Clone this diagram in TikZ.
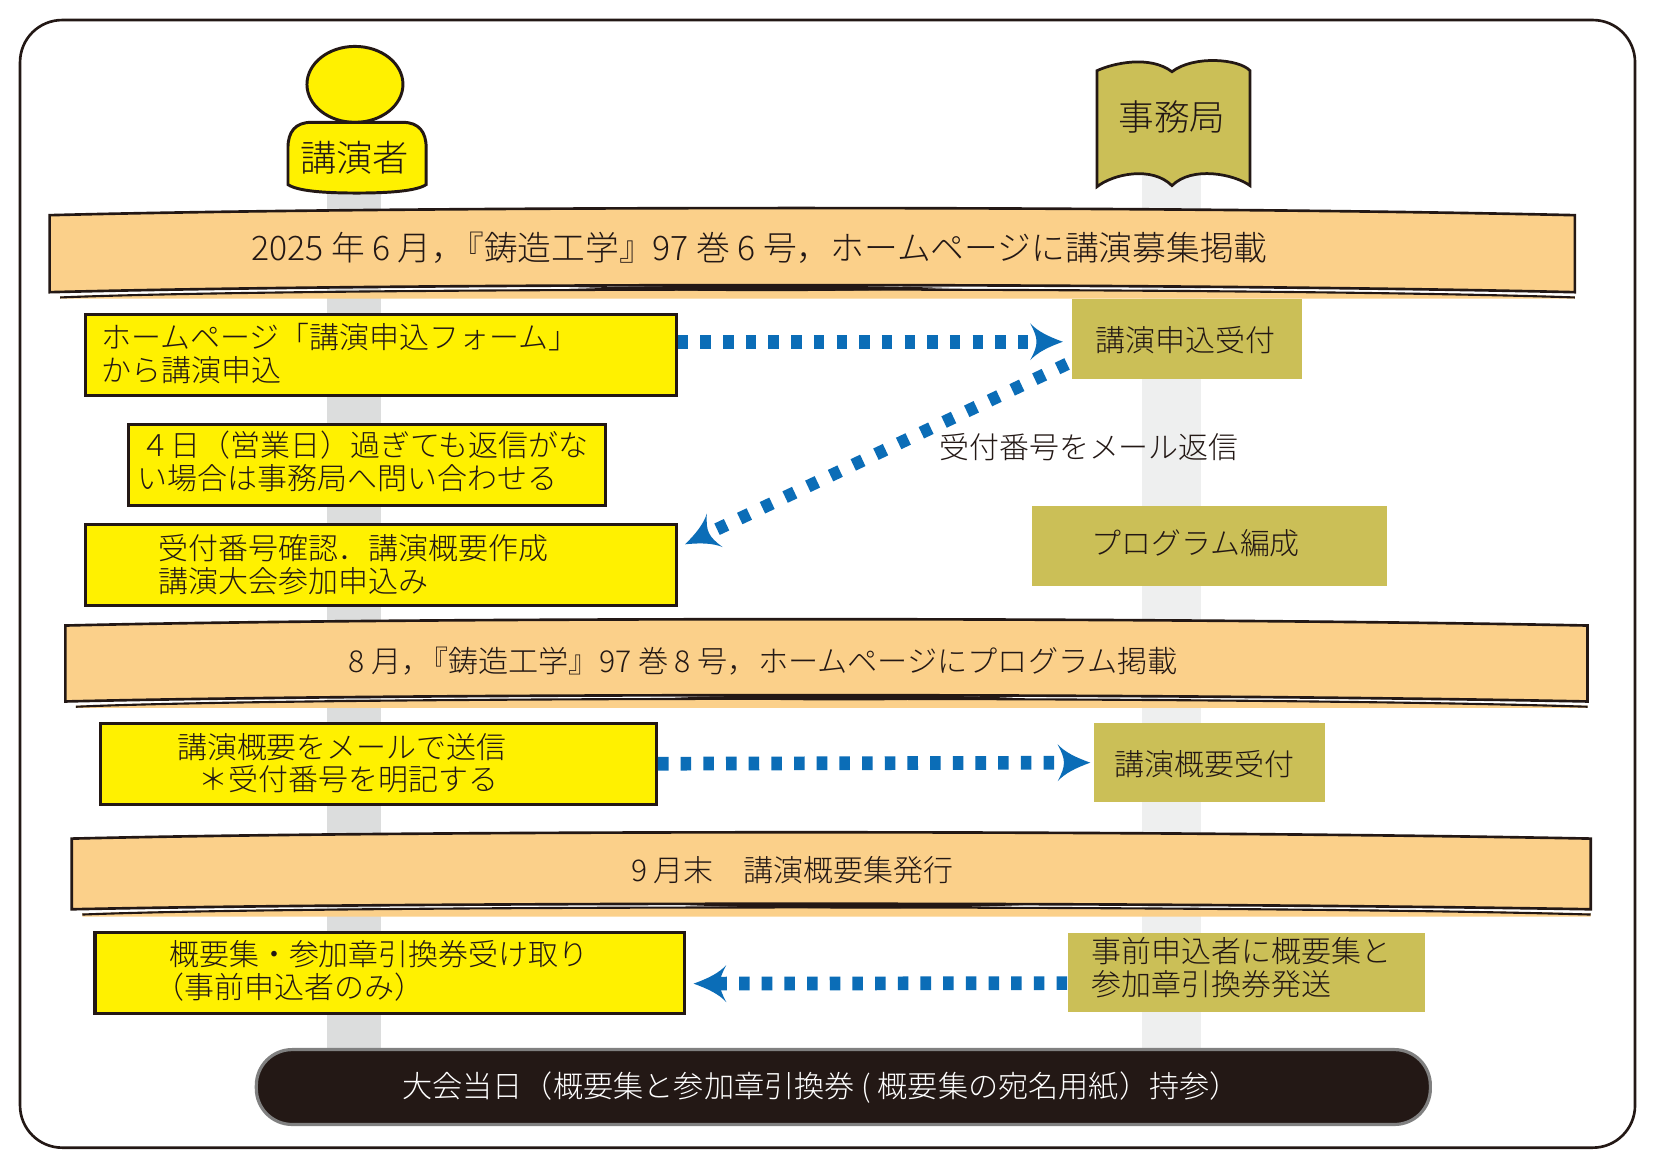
\documentclass[tikz,border=0pt]{standalone}
\usepackage{fontspec}
\setmainfont{Noto Sans CJK JP Light}
\usetikzlibrary{arrows.meta}
\definecolor{ink}{HTML}{231815}
\definecolor{yel}{HTML}{FFF100}
\definecolor{oli}{HTML}{CBBF57}
\definecolor{ora}{HTML}{FBD08A}
\definecolor{blu}{HTML}{0B6DB7}
\definecolor{lifeL}{HTML}{DCDDDD}
\definecolor{lifeR}{HTML}{EEEFEF}
\pgfdeclarearrow{
  name=ConcaveHead,
  setup code={%
    \pgfarrowssettipend{0pt}\pgfarrowssetlineend{-12.5pt}%
    \pgfarrowssetvisualbackend{-12.5pt}\pgfarrowssetbackend{-15.5pt}%
    \pgfarrowshullpoint{0pt}{0pt}},
  drawing code={%
    \pgfsetfillcolor{blu}%
    \pgfpathmoveto{\pgfpoint{0pt}{0pt}}%
    \pgfpathcurveto{\pgfpoint{-7pt}{2.5pt}}{\pgfpoint{-12pt}{5pt}}{\pgfpoint{-15.5pt}{8.75pt}}%
    \pgfpathcurveto{\pgfpoint{-13.5pt}{5pt}}{\pgfpoint{-12.5pt}{2.5pt}}{\pgfpoint{-12.5pt}{0pt}}%
    \pgfpathcurveto{\pgfpoint{-12.5pt}{-2.5pt}}{\pgfpoint{-13.5pt}{-5pt}}{\pgfpoint{-15.5pt}{-8.75pt}}%
    \pgfpathcurveto{\pgfpoint{-12pt}{-5pt}}{\pgfpoint{-7pt}{-2.5pt}}{\pgfpoint{0pt}{0pt}}%
    \pgfpathclose\pgfusepathqfill},
  defaults={}
}
\newcommand{\cmp}{\kern-0.45em }
\tikzset{
  x=0.5pt,y=-0.5pt,
  ybox/.style={draw=ink,fill=yel,line width=1.5pt,minimum width=#1,inner sep=0pt,minimum height=38.5pt},
  obox/.style={fill=oli,minimum width=#1,inner sep=0pt,minimum height=37.75pt},
  txt/.style={text=ink,font=\fontsize{14.2pt}{15.5pt}\selectfont,anchor=west,inner sep=0pt},
  flow/.style={draw=blu,line width=6.5pt,dash pattern=on 5pt off 5.75pt,-{ConcaveHead}},
  flowslant/.style={draw=blu,line width=6pt,dash pattern=on 5pt off 6.9pt,-{ConcaveHead}},
  band/.style={draw=ink,fill=ora,line width=1.25pt},
}
\begin{document}
\begin{tikzpicture}
\useasboundingbox (0,0) rectangle (1568,1106.4);
\fill[white] (0,0) rectangle (1568,1106.4);
\draw[ink,line width=1.25pt,rounded corners=20pt] (19,19) rectangle (1550,1088);
% lifelines
\fill[lifeL] (310,178) rectangle (361,1000);
\fill[lifeR] (1083,155) rectangle (1139,1000);
% actor
\draw[ink,fill=yel,line width=1.4pt] (336.5,80) ellipse [x radius=45.5,y radius=36];
\draw[ink,fill=yel,line width=1.4pt] (273,175) -- (273,140) .. controls (273,125) and (280,116) .. (295,116) -- (382,116) .. controls (397,116) and (404,125) .. (404,140) -- (404,175) .. controls (395,181) and (370,183) .. (338,183) .. controls (306,183) and (282,181) .. (273,175) -- cycle;
\node[text=ink,font=\fontsize{17.2pt}{18pt}\selectfont,inner sep=0pt] (lect) at (336,150) {講演者};
% office
\draw[ink,fill=oli,line width=1.3pt] (1040,67) .. controls (1055,60) and (1090,52) .. (1111,68) .. controls (1132,52) and (1175,56) .. (1185,67) -- (1185,176) .. controls (1170,165) and (1130,157) .. (1111,176) .. controls (1092,157) and (1055,165) .. (1040,177) -- cycle;
\node[text=ink,font=\fontsize{16.9pt}{18pt}\selectfont,inner sep=0pt] (office) at (1111,111) {事務局};
% banner 1
\fill[ora] (57,283) -- (57,281) .. controls (300,272) and (1200,272) .. (1493,281) -- (1493,283) -- cycle;
\draw[ink,line width=1pt] (57,282) .. controls (300,272) and (1200,272) .. (1493,282);
\draw[band] (47,204) .. controls (400,195) and (1100,195) .. (1493,204) -- (1493,277) .. controls (1100,268) and (400,268) .. (47,277) -- cycle;
\fill[ink] (540,273) .. controls (660,270) and (800,270) .. (900,273) .. controls (800,277) and (660,277) .. (540,273) -- cycle;
\node[txt,font=\fontsize{16pt}{17pt}\selectfont] (b1) at (238,235) {2025 年 6 月，\cmp『鋳造工学』97 巻 6 号，ホームページに講演募集掲載};
% banner 2
\fill[ora] (72,671) -- (72,669) .. controls (300,660) and (1200,660) .. (1505,669) -- (1505,671) -- cycle;
\draw[ink,line width=1pt] (72,670) .. controls (300,660) and (1200,660) .. (1505,670);
\draw[band] (62,593) .. controls (400,585) and (1100,585) .. (1505,593) -- (1505,665) .. controls (1100,657) and (400,657) .. (62,665) -- cycle;
\fill[ink] (640,661) .. controls (740,658.5) and (860,658.5) .. (960,661) .. controls (860,665) and (740,665) .. (640,661) -- cycle;
\node[txt,font=\fontsize{14.3pt}{15.5pt}\selectfont] (b2) at (330,627) {8 月，\cmp『鋳造工学』97 巻 8 号，ホームページにプログラム掲載};
% banner 3
\fill[ora] (78,869) -- (78,866) .. controls (300,858) and (1200,858) .. (1508,866) -- (1508,869) -- cycle;
\draw[ink,line width=1pt] (78,867) .. controls (300,858) and (1200,858) .. (1508,867);
\draw[band] (68,795) .. controls (400,787) and (1100,787) .. (1508,795) -- (1508,862) .. controls (1100,855) and (400,855) .. (68,862) -- cycle;
\fill[ink] (650,858) .. controls (750,856) and (870,856) .. (970,858) .. controls (870,862) and (750,862) .. (650,858) -- cycle;
\node[txt] (b3) at (598,825) {9 月末　講演概要集発行};
% yellow boxes
\node[ybox=280pt] (y1) at (361,336.5) {};
\node[txt] (y1a) at (96,320) {ホームページ「講演申込フォーム」};
\node[txt] (y1b) at (96,351) {から講演申込};
\node[ybox=226pt] (y2) at (348,441) {};
\node[txt] (y2a) at (133,422) {４日（営業日）過ぎても返信がな};
\node[txt] (y2b) at (130,453) {い場合は事務局へ問い合わせる};
\node[ybox=280pt] (y3) at (361,535.5) {};
\node[txt] (y3a) at (150,520) {受付番号確認．講演概要作成};
\node[txt] (y3b) at (150,551) {講演大会参加申込み};
\node[ybox=263.5pt] (y4) at (358.75,724) {};
\node[txt] (y4a) at (167.5,708) {講演概要をメールで送信};
\node[txt] (y4b) at (188,739) {＊受付番号を明記する};
\node[ybox=279.5pt] (y5) at (369.5,922.5) {};
\node[txt] (y5a) at (160,905) {概要集・参加章引換券受け取り};
\node[txt] (y5b) at (146,936) {（事前申込者のみ）};
% olive boxes
\node[obox=109pt] (o1) at (1125,321.5) {};
\node[txt,anchor=center] (o1a) at (1124,322) {講演申込受付};
\node[obox=168.5pt] (o2) at (1146.5,517.5) {};
\node[txt] (o2a) at (1034,515) {プログラム編成};
\node[obox=109.5pt] (o3) at (1146.5,723) {};
\node[txt] (o3a) at (1056.5,724) {講演概要受付};
\node[obox=169.5pt] (o4) at (1181.5,922) {};
\node[txt] (o4a) at (1034.5,902) {事前申込者に概要集と};
\node[txt] (o4b) at (1034.5,933) {参加章引換券発送};
\node[txt] (lbl) at (890,424) {受付番号をメール返信};
% pill
\node[draw=black!50,fill=ink,line width=1.5pt,rounded corners=17pt,minimum width=556.5pt,minimum height=35.5pt,inner sep=0pt] (pill) at (799.5,1030.5) {};
\node[txt,text=white,font=\fontsize{14.3pt}{15.5pt}\selectfont] (pillt) at (381,1031) {大会当日（概要集と参加章引換券 ( 概要集の宛名用紙）持参）};
% connectors
\draw[flow] ([yshift=6.25pt]y1.east) -- ([xshift=-4pt,yshift=-1.25pt]o1.west);
\draw[flowslant] ([xshift=-2pt,yshift=-11.75pt]o1.west) -- ([xshift=3.5pt,yshift=9.75pt]y3.east);
\draw[flow] (y4.east) -- ([xshift=-1.5pt]o3.west);
\draw[flow] ([yshift=-5pt]o4.west) -- ([xshift=3.5pt,yshift=-5pt]y5.east);
\end{tikzpicture}
\end{document}
